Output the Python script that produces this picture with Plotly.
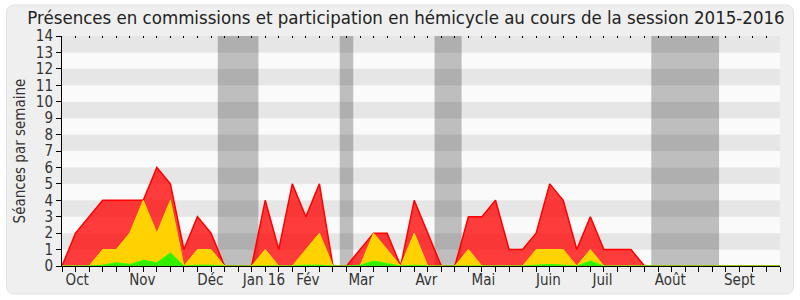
import plotly.graph_objects as go

weeks = list(range(54))
red = [0, 2, 3, 4, 4, 4, 4, 6, 5, 1, 3, 2, 0, 0, 0, 4, 1, 5, 3, 5,
       0, 0, 1, 2, 2, 0, 4, 2, 0, 0, 3, 3, 4, 1, 1, 2, 5, 4, 1, 3,
       1, 1, 1, 0, 0, 0, 0, 0, 0, 0, 0, 0, 0, 0]
yellow = [0, 0, 0, 1, 1, 2, 4, 2, 4, 0, 1, 1, 0, 0, 0, 1, 0, 0, 1, 2,
          0, 0, 0, 2, 1, 0, 2, 0, 0, 0, 1, 0, 0, 0, 0, 1, 1, 1, 0, 1,
          0, 0, 0, 0, 0, 0, 0, 0, 0, 0, 0, 0, 0, 0]
green = [0, 0, 0, 0.05, 0.2, 0.1, 0.35, 0.2, 0.8, 0, 0.05, 0.05, 0, 0, 0, 0, 0, 0, 0.05, 0.05,
         0, 0, 0.05, 0.3, 0.15, 0, 0.05, 0, 0, 0, 0, 0, 0, 0, 0, 0.05, 0.1, 0.05, 0, 0.3,
         0, 0, 0, 0, 0, 0, 0, 0, 0, 0, 0, 0, 0, 0]
month_labels = ["Oct", "Nov", "Déc", "Jan 16", "Fév", "Mar", "Avr", "Mai", "Juin", "Juil", "Août", "Sept"]
month_pos = [1.12, 5.93, 10.95, 14.9, 18.15, 22.08, 26.9, 31.1, 35.9, 39.9, 44.9, 50.0]
vacations = [(11.5, 14.5), (20.5, 21.5), (27.5, 29.5), (43.5, 48.5)]

FONT = "DejaVu Sans Condensed"
fig = go.Figure()
fig.add_trace(go.Scatter(x=weeks, y=red, mode="lines", fill="tozeroy",
                         line=dict(color="#ff0000", width=1.5),
                         fillcolor="rgba(255,0,0,0.76)", hoverinfo="skip"))
fig.add_trace(go.Scatter(x=weeks, y=yellow, mode="lines", fill="tozeroy",
                         line=dict(color="#ffe000", width=1),
                         fillcolor="#ffd200", hoverinfo="skip"))
fig.add_trace(go.Scatter(x=weeks, y=green, mode="lines", fill="tozeroy",
                         line=dict(color="#33ff00", width=1),
                         fillcolor="#33ee00", hoverinfo="skip"))

shapes = []
W, H = 800, 300
L, R, T, B = 61.5, 19.5, 36, 34
pw, ph = W - L - R, H - T - B
def px(x): return (x - L) / pw
def py(y): return (H - B - y) / ph
x0, x1, y0, y1, r = 6, 794, 5, 294, 8
path = (f"M {px(x0+r)},{py(y0)} L {px(x1-r)},{py(y0)} Q {px(x1)},{py(y0)} {px(x1)},{py(y0+r)} "
        f"L {px(x1)},{py(y1-r)} Q {px(x1)},{py(y1)} {px(x1-r)},{py(y1)} "
        f"L {px(x0+r)},{py(y1)} Q {px(x0)},{py(y1)} {px(x0)},{py(y1-r)} "
        f"L {px(x0)},{py(y0+r)} Q {px(x0)},{py(y0)} {px(x0+r)},{py(y0)} Z")
shapes.append(dict(type="path", path=path, xref="paper", yref="paper",
                   fillcolor="#efefef", line=dict(color="#e2e2e2", width=1), layer="below"))
for b in range(14):
    shapes.append(dict(type="rect", xref="paper", yref="y", x0=0, x1=1, y0=b, y1=b + 1,
                       fillcolor="#e6e6e6" if b % 2 == 1 else "#fafafa",
                       line=dict(width=0), layer="below"))
for a, b in vacations:
    shapes.append(dict(type="rect", xref="x", yref="paper", x0=a, x1=b, y0=0, y1=1,
                       fillcolor="rgba(0,0,0,0.24)", line=dict(width=0), layer="below"))

fig.update_layout(
    width=W, height=H, margin=dict(l=L, r=R, t=T, b=B),
    paper_bgcolor="white", plot_bgcolor="rgba(0,0,0,0)",
    showlegend=False, shapes=shapes,
    font=dict(family=FONT, color="#333333", size=15),
    title=dict(text="Présences en commissions et participation en hémicycle au cours de la session 2015-2016",
               x=px(406), xref="paper", xanchor="center", y=0.94, yanchor="middle",
               font=dict(size=18.5, color="#222222", family=FONT)),
    xaxis=dict(range=[0, 53], showgrid=False, zeroline=False,
               showline=True, linecolor="#000000", linewidth=1,
               tickmode="array", tickvals=month_pos, ticktext=month_labels, ticks="",
               tickfont=dict(size=15), ticklabelstandoff=0,
               minor=dict(tickmode="linear", tick0=0, dtick=1, ticks="outside",
                          ticklen=5, tickcolor="#000000", showgrid=False)),
    xaxis2=dict(range=[0, 53], overlaying="x", side="top", showgrid=False, zeroline=False,
                showline=False, tickmode="linear", tick0=0, dtick=1, ticks="inside",
                ticklen=2, tickwidth=1, tickcolor="#000000", showticklabels=False),
    yaxis=dict(range=[0, 14], showgrid=False, zeroline=False,
               showline=True, linecolor="#000000", linewidth=1,
               tickmode="linear", tick0=0, dtick=1, ticks="outside", ticklen=5,
               tickcolor="#000000", tickfont=dict(size=15),
               title=dict(text="Séances par semaine", font=dict(size=15), standoff=6)),
)
fig.add_trace(go.Scatter(x=[0], y=[0], xaxis="x2", mode="markers",
                         marker=dict(opacity=0), hoverinfo="skip"))
fig.write_html("out.html")
